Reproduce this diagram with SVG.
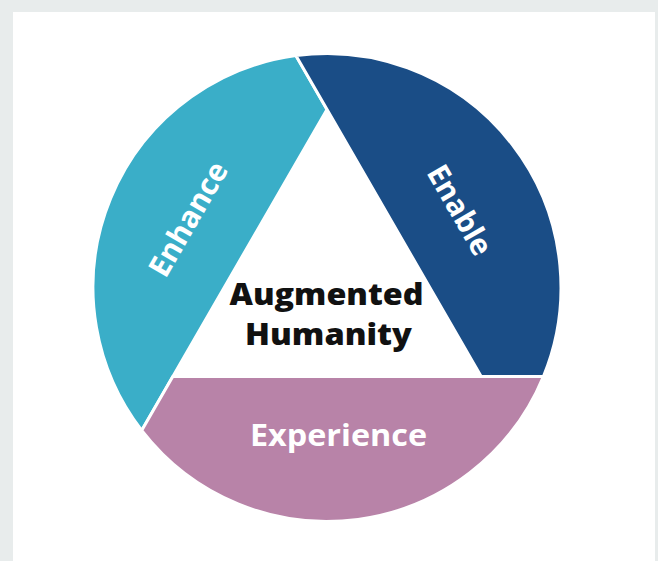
<svg xmlns="http://www.w3.org/2000/svg" width="658" height="561" viewBox="0 0 658 561">
  <style>
    .seg { stroke: #ffffff; stroke-width: 3; stroke-linejoin: round; }
    .lbl { font-family: "Open Sans", "Liberation Sans", sans-serif; font-weight: 700; font-size: 30px; fill: #ffffff; text-anchor: middle; }
    .core { font-family: "Open Sans", "Liberation Sans", sans-serif; font-weight: 800; font-size: 30px; fill: #111111; text-anchor: middle; }
  </style>
  <!-- page background and card -->
  <rect x="0" y="0" width="658" height="561" fill="#e8ecec"/>
  <rect x="13" y="12" width="642" height="549" fill="#ffffff"/>

  <!-- three chord segments around a central triangle -->
  <g id="enhance">
    <path class="seg" fill="#3aaec8" d="M295.9 55.6 A234 234 0 0 0 141.7 430.4 L327 109.5 Z"/>
    <text class="lbl" transform="translate(188 219) rotate(-60)" y="10.7" textLength="127" lengthAdjust="spacingAndGlyphs">Enhance</text>
  </g>
  <g id="enable">
    <path class="seg" fill="#1a4d86" d="M543.4 376.5 A234 234 0 0 0 295.9 55.6 L481.2 376.5 Z"/>
    <text class="lbl" transform="translate(460 210) rotate(60)" y="10.7" textLength="99" lengthAdjust="spacingAndGlyphs">Enable</text>
  </g>
  <g id="experience">
    <path class="seg" fill="#b883a8" d="M141.7 430.4 A234 234 0 0 0 543.4 376.5 L172.8 376.5 Z"/>
    <text class="lbl" x="338.5" y="446" textLength="177" lengthAdjust="spacingAndGlyphs">Experience</text>
  </g>
  <g id="augmented-humanity">
    <text class="core" x="326.5" y="305" textLength="194" lengthAdjust="spacingAndGlyphs">Augmented</text>
    <text class="core" x="328.5" y="345" textLength="167" lengthAdjust="spacingAndGlyphs">Humanity</text>
  </g>
  <g id="connectors"/>
</svg>
